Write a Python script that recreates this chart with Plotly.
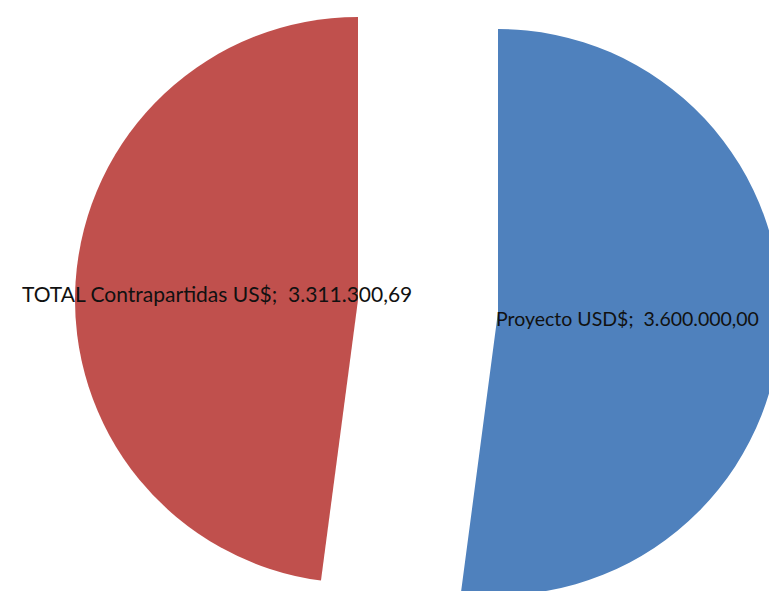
import plotly.graph_objects as go

labels = ["Proyecto USD$", "TOTAL Contrapartidas US$"]
values = [3600000.00, 3311300.69]
value_text = ["3.600.000,00", "3.311.300,69"]
colors = ["#4F81BD", "#C0504D"]

# figure is slightly larger than the window so the exploded pie is cut off at the edges
W, H = 800, 620
R = 283

def dom(cx, cy):
    # cx, cy in figure pixels from top-left; paper domain for a pie of radius R
    return dict(x=[(cx - R) / W, (cx + R) / W],
                y=[(H - cy - R) / H, (H - cy + R) / H])

fig = go.Figure()
# each slice drawn by its own pie trace so the slices can be spread apart
for i, (cx, cy) in enumerate([(490, 304), (350, 292)]):
    cols = ["rgba(0,0,0,0)"] * len(values)
    cols[i] = colors[i]
    fig.add_trace(go.Pie(
        labels=labels, values=values, sort=False, direction="clockwise",
        rotation=0, marker=dict(colors=cols, line=dict(width=0)),
        textinfo="none", hoverinfo="label+value", showlegend=False,
        domain=dom(cx, cy),
    ))

ann_pos = [(486, 310, 19.5), (12, 285, 21)]
for i, (x, y, fs) in enumerate(ann_pos):
    fig.add_annotation(x=x / W, y=1 - y / H, xref="paper", yref="paper",
                       xanchor="left", yanchor="middle", showarrow=False,
                       text=f"{labels[i]};\u00a0 {value_text[i]}",
                       font=dict(family="Lato", size=fs, color="#111111"))

fig.update_layout(width=W, height=H, margin=dict(l=0, r=0, t=0, b=0),
                  paper_bgcolor="white", plot_bgcolor="white")
fig.write_html("out.html")
